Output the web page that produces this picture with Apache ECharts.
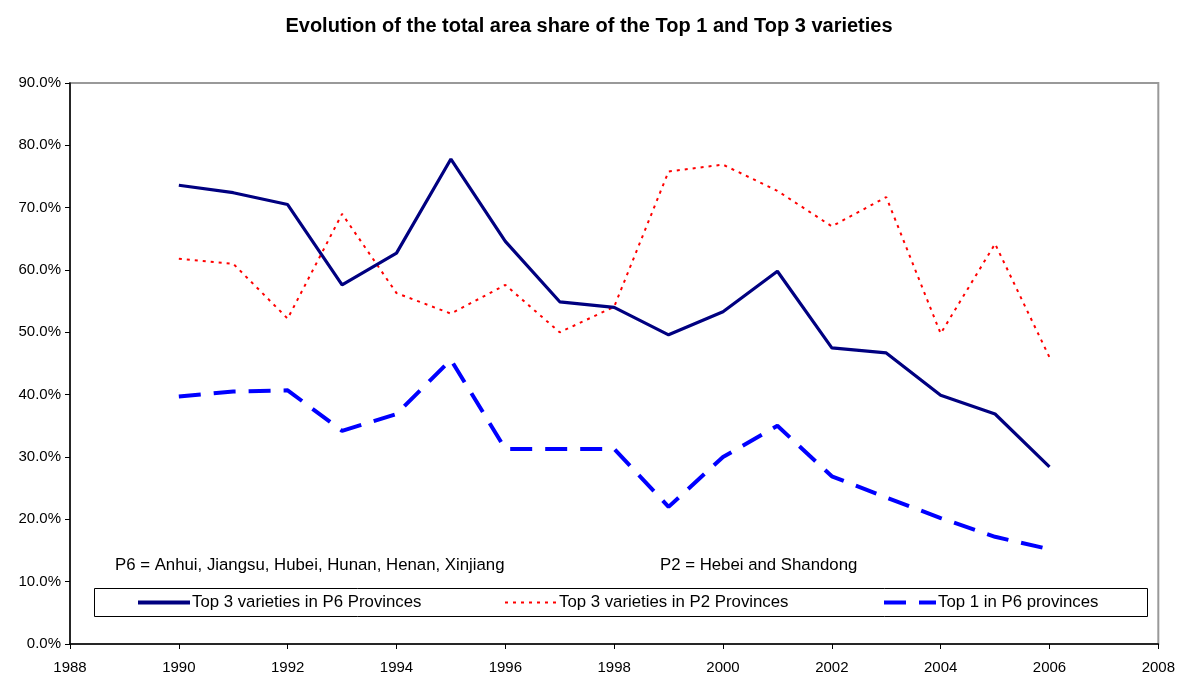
<!DOCTYPE html>
<html>
<head>
<meta charset="utf-8">
<script src="https://cdn.jsdelivr.net/npm/echarts@6/dist/echarts.min.js"></script>
<style>
html,body{margin:0;padding:0;background:#fff;}
#chart{width:1178px;height:675px;}
</style>
</head>
<body>
<div id="chart"></div>
<script>
const years = [1990,1991,1992,1993,1994,1995,1996,1997,1998,1999,2000,2001,2002,2003,2004,2005,2006];
const top3P6 = [73.6,72.4,70.5,57.6,62.7,77.8,64.6,54.9,54.0,49.6,53.3,59.8,47.5,46.7,39.9,36.9,28.4];
const top3P2 = [61.8,61.0,52.2,69.0,56.3,53.0,57.6,50.0,54.1,75.8,76.9,72.7,67.0,71.7,49.8,64.2,46.0];
const top1P6 = [39.7,40.5,40.7,34.2,36.9,45.6,31.3,31.3,31.3,22.0,30.0,35.0,26.9,23.5,20.2,17.2,15.2];
const seriesNames = ['Top 3 varieties in P6 Provinces','Top 3 varieties in P2 Provinces','Top 1 in P6 provinces'];
const titleText = 'Evolution of the total area share of the Top 1 and Top 3 varieties';
const noteP6 = 'P6 = Anhui, Jiangsu, Hubei, Hunan, Henan, Xinjiang';
const noteP2 = 'P2 = Hebei and Shandong';

const pair = arr => years.map((y,i)=>[y, arr[i]/100]);
const font = 'Liberation Sans, Arial, sans-serif';

const legendBase = {top:594,padding:0,itemWidth:52,itemHeight:14,
  itemStyle:{opacity:0},
  textStyle:{fontSize:16.8,fontFamily:font,color:'#000',padding:[0,0,0,-3]}};
const legendLefts = [136,504,882];
const legendWidths = [4,2,4];

const chart = echarts.init(document.getElementById('chart'), null, {renderer:'canvas'});
chart.setOption({
  animation:false,
  backgroundColor:'#fff',
  textStyle:{fontFamily:font},
  title:{text:titleText,left:'center',top:11,
    textStyle:{fontFamily:font,fontWeight:'bold',fontSize:20,color:'#000'}},
  grid:{left:70,right:18,top:83,bottom:31,show:true,borderColor:'#999',borderWidth:2,backgroundColor:'transparent'},
  xAxis:{type:'value',min:1988,max:2008,interval:2,
    axisLine:{onZero:false,lineStyle:{color:'#000',width:1.5}},
    axisTick:{inside:false,length:5,lineStyle:{color:'#000'}},
    axisLabel:{color:'#000',fontSize:15,fontFamily:font,margin:16,formatter:v=>String(v)},
    splitLine:{show:false}},
  yAxis:{type:'value',min:0,max:0.9,interval:0.1,
    axisLine:{show:true,lineStyle:{color:'#000',width:1.5}},
    axisTick:{show:true,length:5,lineStyle:{color:'#000'}},
    axisLabel:{color:'#000',fontSize:15,fontFamily:font,margin:9,
      formatter:v=>(v*100).toFixed(1)+'%'},
    splitLine:{show:false}},
  legend:seriesNames.map((n,i)=>Object.assign({},legendBase,{left:legendLefts[i],data:[n],
    lineStyle:{width:legendWidths[i]}})),
  graphic:[
    {type:'rect',shape:{x:94.5,y:588.5,width:1053,height:28},style:{fill:'none',stroke:'#000',lineWidth:1},z:1},
    {type:'text',left:115,top:557,style:{text:noteP6,fontSize:16.8,fontFamily:font,fill:'#000'}},
    {type:'text',left:660,top:557,style:{text:noteP2,fontSize:16.8,fontFamily:font,fill:'#000'}}
  ],
  series:[
    {name:seriesNames[0],type:'line',data:pair(top3P6),symbol:'none',
      lineStyle:{color:'#000080',width:3.2},itemStyle:{color:'#000080'},z:3},
    {name:seriesNames[1],type:'line',data:pair(top3P2),symbol:'none',
      lineStyle:{color:'#ff0000',width:2,type:[3,5]},itemStyle:{color:'#ff0000'},z:2},
    {name:seriesNames[2],type:'line',data:pair(top1P6),symbol:'none',
      lineStyle:{color:'#0000ff',width:4,type:[22,13]},itemStyle:{color:'#0000ff'},z:2}
  ]
});
</script>
</body>
</html>
